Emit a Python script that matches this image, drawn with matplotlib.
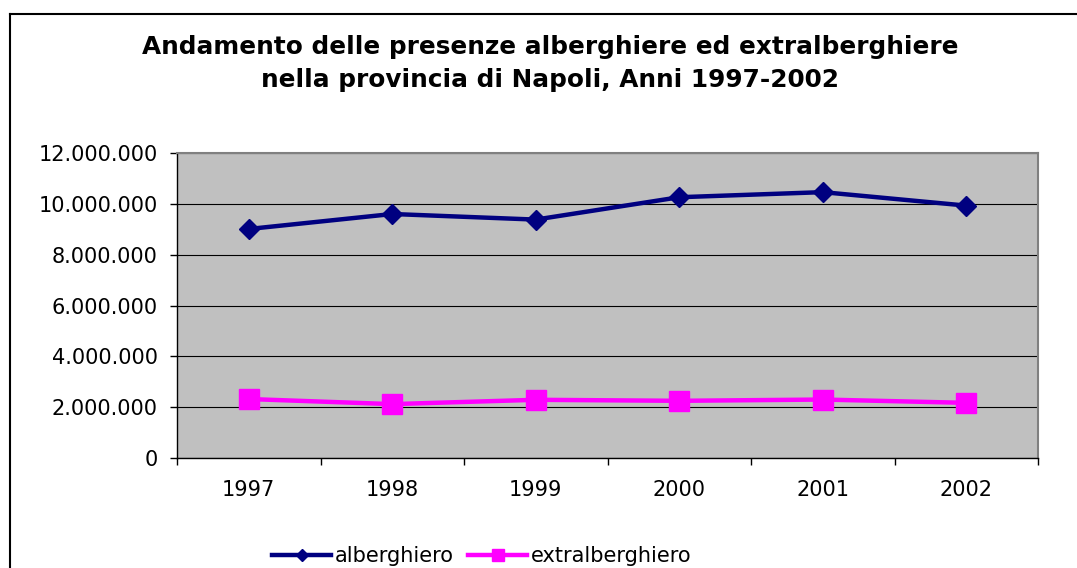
import numpy as np
import matplotlib
matplotlib.use("Agg")
import matplotlib.pyplot as plt
from matplotlib.lines import Line2D
from matplotlib.ticker import FuncFormatter

# dati
anni = ['1997', '1998', '1999', '2000', '2001', '2002']
alberghiero = [9010000, 9600000, 9380000, 10260000, 10460000, 9930000]
extralberghiero = [2320000, 2120000, 2290000, 2250000, 2300000, 2170000]
yticks = [0, 2000000, 4000000, 6000000, 8000000, 10000000, 12000000]

plt.rcParams['font.family'] = ['DejaVu Sans']

fig = plt.figure(figsize=(10.77, 5.68), dpi=100)
ax = fig.add_axes([177/1077, 110/568, 861/1077, 305/568])

x = np.arange(len(anni)) + 0.5
ax.plot(x, alberghiero, color='#000080', lw=3.2, marker='D', ms=10, label='alberghiero', zorder=3)
ax.plot(x, extralberghiero, color='#FF00FF', lw=3.2, marker='s', ms=14, label='extralberghiero', zorder=3)

ax.set_facecolor('#C0C0C0')
ax.set_xlim(0, len(anni))
ax.set_ylim(0, 12000000)
ax.set_yticks(yticks)
ax.yaxis.set_major_formatter(FuncFormatter(lambda v, p: f"{int(v):,}".replace(',', '.')))
ax.grid(axis='y', color='black', lw=0.8)
ax.set_axisbelow(True)

ax.set_xticks(np.arange(len(anni) + 1))
ax.set_xticklabels([])
ax.set_xticks(x, minor=True)
ax.set_xticklabels(anni, minor=True)
ax.tick_params(axis='x', which='major', length=5, width=1)
ax.tick_params(axis='x', which='minor', length=0, pad=16, labelsize=15)
ax.tick_params(axis='y', length=5, width=1, pad=9, labelsize=15)

for s in ['top', 'right']:
    ax.spines[s].set_color('#808080')
    ax.spines[s].set_linewidth(1.5)
for s in ['left', 'bottom']:
    ax.spines[s].set_color('black')
    ax.spines[s].set_linewidth(1)

fig.text(550/1077, 1 - 63.5/568, 'Andamento delle presenze alberghiere ed extralberghiere\nnella provincia di Napoli, Anni 1997-2002',
         ha='center', va='center', fontsize=17.8, fontweight='bold', linespacing=1.45)

ax.legend(loc='center', bbox_to_anchor=(482/1077, 12/568), bbox_transform=fig.transFigure,
          ncol=2, frameon=False, fontsize=15, handlelength=2.8, handletextpad=0.2,
          columnspacing=0.7, markerscale=0.65)

# cornice esterna (solo lato sinistro e superiore visibili)
fig.add_artist(Line2D([9.5/1077, 9.5/1077], [0, 1 - 13.5/568], color='black', lw=1.5, transform=fig.transFigure))
fig.add_artist(Line2D([9.5/1077, 1], [1 - 13.5/568, 1 - 13.5/568], color='black', lw=1.5, transform=fig.transFigure))

fig.savefig('out.png', dpi=100)
